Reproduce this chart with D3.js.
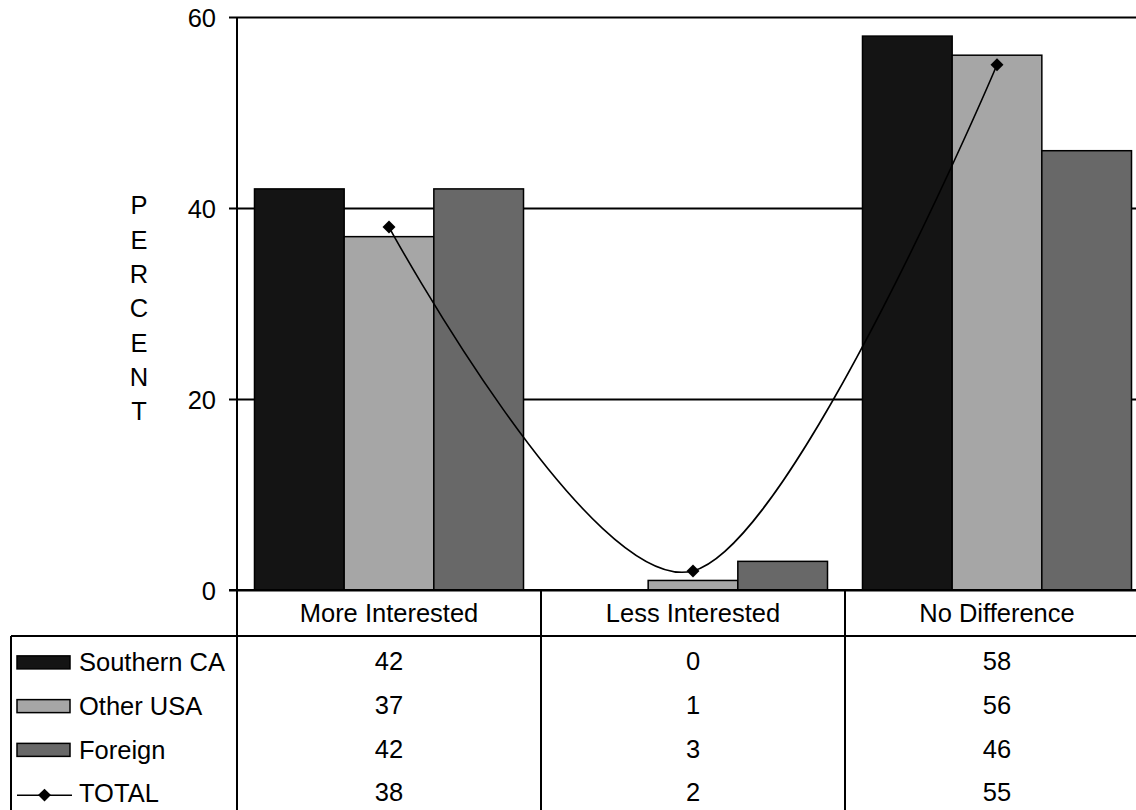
<!DOCTYPE html>
<html>
<head>
<meta charset="utf-8">
<script src="https://cdn.jsdelivr.net/npm/d3@7"></script>
<style>
  html, body { margin: 0; padding: 0; background: #fff; }
  svg { display: block; }
  text { font-family: "Liberation Sans", Arial, Helvetica, sans-serif; fill: #000; }
</style>
</head>
<body>
<svg id="chart" width="1136" height="810"></svg>
<script>
// ---- data ----
const categories = ["More Interested", "Less Interested", "No Difference"];
const seriesNames = ["Southern CA", "Other USA", "Foreign"];
const southernCA = [42, 0, 58];
const otherUSA = [37, 1, 56];
const foreign = [42, 3, 46];
const total = [38, 2, 55];
const yTicks = [0, 20, 40, 60];
const axisTitle = "PERCENT";
const seriesColors = ["#141414", "#a6a6a6", "#686868"];

const barSeries = [southernCA, otherUSA, foreign];

// ---- layout ----
const W = 1136, H = 810;
const plotLeft = 237, plotTop = 17, plotBottom = 590, plotRight = 1149;
const tableLeft = 11, headerBottom = 636;
const fontSize = 25.5;

const svg = d3.select("#chart");

const x = d3.scaleBand().domain(categories).range([plotLeft, plotRight]).paddingInner(0).paddingOuter(0);
const xs = d3.scaleBand().domain(seriesNames).range([0, x.bandwidth()]).paddingInner(0).paddingOuter(0.195);
const y = d3.scaleLinear().domain([0, 60]).range([plotBottom, plotTop]);

// gridlines + ticks + labels via axis
const yAxis = d3.axisLeft(y).tickValues(yTicks).tickSizeInner(-(W - 229)).tickSizeOuter(0).tickPadding(13);
const gAxis = svg.append("g").attr("transform", `translate(229,0)`).call(yAxis);
gAxis.select(".domain").remove();
gAxis.selectAll(".tick line").attr("stroke", "#000").attr("stroke-width", 2);
gAxis.selectAll(".tick text").attr("font-size", fontSize).attr("fill", "#000")
  .style("font-family", "'Liberation Sans', Arial, sans-serif").attr("dy", "0.36em");

// bars
const barG = svg.append("g");
barSeries.forEach((vals, si) => {
  barG.selectAll(null).data(vals.map((v, i) => ({ v, c: categories[i] })))
    .enter().append("rect")
    .attr("x", d => x(d.c) + xs(seriesNames[si]))
    .attr("width", xs.bandwidth())
    .attr("y", d => y(d.v))
    .attr("height", d => y(0) - y(d.v))
    .attr("fill", seriesColors[si])
    .attr("stroke", d => d.v > 0 ? "#000" : "none")
    .attr("stroke-width", 1.5);
});

// zero line on top of bars
svg.append("line").attr("x1", 229).attr("x2", W).attr("y1", y(0)).attr("y2", y(0))
  .attr("stroke", "#000").attr("stroke-width", 2);

// total line (smoothed)
const pts = total.map((v, i) => [x(categories[i]) + x.bandwidth() / 2, y(v)]);
svg.append("path").attr("d", d3.line().curve(d3.curveCardinal.tension(0))(pts))
  .attr("fill", "none").attr("stroke", "#000").attr("stroke-width", 1.6);
const diamond = d3.symbol(d3.symbolSquare, 84);
svg.selectAll(null).data(pts).enter().append("path")
  .attr("d", diamond)
  .attr("transform", d => `translate(${d[0]},${d[1]}) rotate(45)`)
  .attr("fill", "#000");

// y-axis vertical line
svg.append("line").attr("x1", plotLeft).attr("x2", plotLeft).attr("y1", plotTop).attr("y2", H)
  .attr("stroke", "#000").attr("stroke-width", 2);

// axis title stacked letters
const letters = axisTitle.split("");
const ly = d3.scalePoint().domain(d3.range(letters.length)).range([205, 411]);
svg.selectAll(null).data(letters).enter().append("text")
  .attr("x", 139).attr("y", (d, i) => ly(i)).attr("dy", "0.36em")
  .attr("text-anchor", "middle").attr("font-size", fontSize).text(d => d);

// ---- data table ----
categories.slice(1).forEach(c => {
  svg.append("line").attr("x1", x(c)).attr("x2", x(c)).attr("y1", plotBottom).attr("y2", H)
    .attr("stroke", "#000").attr("stroke-width", 2);
});
svg.append("line").attr("x1", tableLeft).attr("x2", W).attr("y1", headerBottom).attr("y2", headerBottom)
  .attr("stroke", "#000").attr("stroke-width", 2);
svg.append("line").attr("x1", tableLeft).attr("x2", tableLeft).attr("y1", headerBottom).attr("y2", H)
  .attr("stroke", "#000").attr("stroke-width", 2);

svg.selectAll(null).data(categories).enter().append("text")
  .attr("x", d => x(d) + x.bandwidth() / 2).attr("y", 613).attr("dy", "0.36em")
  .attr("text-anchor", "middle").attr("font-size", fontSize).text(d => d);

const rowNames = seriesNames.concat(["TOTAL"]);
const rowValues = [southernCA, otherUSA, foreign, total];
const row = d3.scaleBand().domain(rowNames).range([639, 814]);

rowNames.forEach((name, ri) => {
  const cy = row(name) + row.bandwidth() / 2;
  svg.selectAll(null).data(rowValues[ri]).enter().append("text")
    .attr("x", (d, i) => x(categories[i]) + x.bandwidth() / 2).attr("y", cy).attr("dy", "0.36em")
    .attr("text-anchor", "middle").attr("font-size", fontSize).text(d => d);
  if (ri < 3) {
    svg.append("rect").attr("x", 17).attr("y", cy - 5).attr("width", 53).attr("height", 13)
      .attr("fill", seriesColors[ri]).attr("stroke", "#000").attr("stroke-width", 1.5);
  } else {
    svg.append("line").attr("x1", 17).attr("x2", 72).attr("y1", cy + 3).attr("y2", cy + 3)
      .attr("stroke", "#000").attr("stroke-width", 1.5);
    svg.append("path").attr("d", diamond).attr("transform", `translate(44.5,${cy + 3}) rotate(45)`).attr("fill", "#000");
  }
  svg.append("text").attr("x", 79).attr("y", cy + 1).attr("dy", "0.36em")
    .attr("font-size", fontSize).text(name);
});
</script>
</body>
</html>
